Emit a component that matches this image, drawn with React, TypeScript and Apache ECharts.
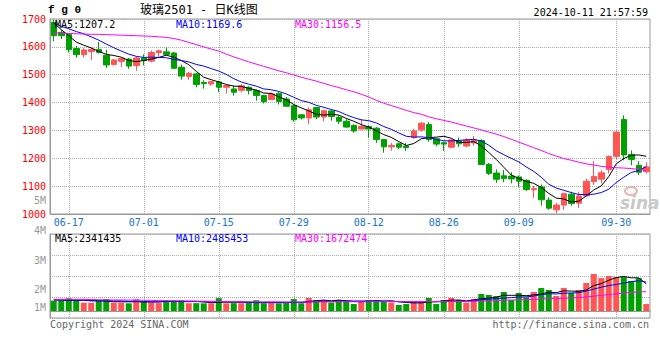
import React, { useEffect, useRef } from 'react';
import * as echarts from 'echarts';

// ---------- data ----------
const dates = [
  '06-13','06-14','06-17','06-18','06-19','06-20','06-21','06-24','06-25','06-26','06-27','06-28',
  '07-01','07-02','07-03','07-04','07-05','07-08','07-09','07-10','07-11','07-12','07-15','07-16','07-17','07-18','07-19','07-22','07-23','07-24','07-25','07-26','07-29','07-30','07-31',
  '08-01','08-02','08-05','08-06','08-07','08-08','08-09','08-12','08-13','08-14','08-15','08-16','08-19','08-20','08-21','08-22','08-23','08-26','08-27','08-28','08-29','08-30',
  '09-02','09-03','09-04','09-05','09-06','09-09','09-10','09-11','09-12','09-13','09-18','09-19','09-20','09-23','09-24','09-25','09-26','09-27','09-30',
  '10-08','10-09','10-10','10-11'
];
const labelDates = ['06-17','07-01','07-15','07-29','08-12','08-26','09-09','09-30'];

const open = [
  1688,1652,1645,1594,1572,1583,1590,1570,1537,1548,
  1556,1533,1560,1549,1579,1582,1578,1527,1494,1503,
  1472,1467,1474,1455,1449,1444,1455,1443,1425,1411,
  1433,1413,1389,1356,1345,1382,1348,1370,1347,1333,
  1318,1305,1314,1308,1267,1241,1252,1244,1275,1302,
  1321,1270,1256,1240,1262,1244,1255,1264,1178,1147,
  1137,1136,1133,1121,1087,1097,1050,1015,1032,1071,
  1039,1065,1116,1125,1160,1207,1339,1214,1175,1152
];
const close = [
  1640,1640,1590,1572,1589,1590,1580,1535,1553,1558,
  1531,1560,1551,1580,1586,1573,1523,1495,1505,1465,
  1468,1475,1455,1461,1437,1460,1443,1425,1404,1431,
  1404,1387,1338,1345,1374,1348,1371,1350,1333,1312,
  1298,1314,1305,1267,1241,1246,1240,1238,1298,1326,
  1267,1251,1251,1266,1252,1266,1265,1178,1146,1125,
  1127,1126,1118,1088,1091,1051,1021,1032,1073,1038,
  1065,1118,1135,1148,1206,1294,1212,1196,1150,1169
];
const high = [
  1698,1660,1648,1603,1595,1598,1618,1590,1557,1562,
  1560,1565,1573,1587,1590,1598,1582,1536,1510,1506,
  1480,1478,1478,1466,1461,1466,1459,1447,1428,1436,
  1437,1420,1393,1358,1382,1385,1375,1373,1354,1340,
  1322,1340,1318,1312,1270,1255,1257,1255,1306,1330,
  1330,1273,1260,1270,1275,1272,1280,1268,1183,1160,
  1158,1150,1138,1125,1101,1106,1060,1040,1077,1080,
  1080,1127,1190,1157,1210,1297,1354,1228,1190,1185
];
const low = [
  1620,1628,1580,1561,1562,1553,1576,1524,1533,1527,
  1521,1514,1533,1544,1565,1570,1522,1482,1482,1455,
  1450,1460,1437,1433,1425,1437,1429,1407,1397,1409,
  1393,1385,1332,1339,1322,1340,1333,1335,1323,1310,
  1292,1303,1274,1255,1220,1227,1233,1226,1270,1296,
  1260,1243,1226,1236,1240,1240,1245,1176,1140,1112,
  1114,1110,1095,1082,1058,1030,1015,1003,1015,1030,
  1022,1062,1105,1110,1145,1197,1193,1175,1140,1145
];
const ma5 = [
  1686,1662,1640,1617,1606,1596,1584,1573,1569,1563,
  1551,1547,1551,1556,1562,1570,1563,1551,1536,1512,
  1491,1482,1474,1465,1459,1458,1451,1445,1434,1433,
  1421,1410,1393,1381,1370,1358,1355,1358,1355,1343,
  1333,1321,1312,1299,1285,1275,1260,1246,1253,1270,
  1274,1276,1279,1272,1257,1257,1260,1245,1221,1196,
  1168,1140,1128,1117,1110,1095,1074,1057,1054,1043,
  1046,1065,1086,1101,1134,1180,1199,1211,1212,1207
];
const ma10 = [
  1684,1674,1665,1655,1647,1636,1624,1610,1597,1585,
  1574,1566,1562,1563,1562,1561,1555,1551,1546,1537,
  1531,1522,1513,1501,1486,1474,1466,1459,1449,1446,
  1440,1431,1419,1407,1401,1390,1383,1375,1368,1356,
  1346,1338,1335,1327,1314,1304,1291,1279,1276,1277,
  1274,1268,1263,1262,1264,1266,1268,1262,1247,1227,
  1213,1200,1187,1169,1153,1132,1107,1093,1085,1077,
  1070,1070,1071,1077,1089,1113,1132,1149,1156,1170
];
const ma30 = [
  1650,1649,1648,1647,1646,1645,1645,1644,1643,1642,
  1641,1640,1639,1638,1636,1634,1630,1624,1616,1608,
  1600,1592,1585,1574,1564,1555,1546,1538,1530,1522,
  1514,1507,1499,1491,1484,1477,1469,1461,1454,1446,
  1439,1430,1420,1408,1398,1389,1381,1372,1364,1358,
  1349,1342,1336,1330,1323,1316,1309,1302,1294,1287,
  1278,1268,1258,1248,1238,1228,1217,1208,1199,1193,
  1186,1180,1176,1171,1168,1166,1165,1163,1160,1157
];
// volume in millions
const volume = [
  0.89,0.885,1.09,0.89,0.72,0.715,0.89,1.01,0.72,0.72,
  0.66,1.01,0.80,0.72,0.68,0.91,0.90,0.92,0.67,0.68,
  0.66,0.67,1.11,0.66,0.68,0.67,0.69,0.93,0.67,0.68,
  0.66,0.68,1.03,0.67,1.12,0.93,0.94,0.72,0.94,0.86,
  0.60,0.86,0.94,0.95,0.86,0.72,0.52,0.60,0.80,0.86,
  1.12,0.60,0.95,1.12,0.95,0.72,1.03,1.47,1.38,1.29,
  1.64,0.95,1.55,1.18,1.64,1.98,1.81,1.29,1.98,1.55,
  1.81,2.41,3.19,2.84,3.02,2.93,2.93,2.59,2.84,0.60
];
const volMa5 = [
  0.95,0.93,0.92,0.92,0.93,0.87,0.87,0.86,0.80,0.80,
  0.79,0.81,0.78,0.78,0.78,0.84,0.82,0.83,0.83,0.83,
  0.78,0.72,0.76,0.76,0.76,0.76,0.76,0.72,0.72,0.72,
  0.72,0.72,0.74,0.74,0.83,0.89,0.94,0.88,0.94,0.89,
  0.82,0.80,0.84,0.84,0.84,0.87,0.80,0.73,0.70,0.70,
  0.78,0.80,0.87,0.93,0.95,0.87,0.95,1.06,1.11,1.18,
  1.36,1.35,1.36,1.32,1.39,1.46,1.63,1.58,1.74,1.72,
  1.69,1.81,2.19,2.36,2.65,2.88,2.98,2.86,2.86,2.34
];
const volMa10 = [
  0.97,0.96,0.95,0.94,0.93,0.91,0.90,0.89,0.87,0.87,
  0.83,0.84,0.82,0.79,0.79,0.82,0.82,0.81,0.81,0.81,
  0.81,0.77,0.80,0.80,0.80,0.77,0.74,0.74,0.74,0.74,
  0.74,0.74,0.73,0.73,0.78,0.81,0.83,0.81,0.84,0.86,
  0.86,0.87,0.86,0.89,0.87,0.85,0.80,0.79,0.77,0.77,
  0.83,0.80,0.80,0.82,0.83,0.83,0.88,0.97,1.02,1.07,
  1.12,1.15,1.21,1.22,1.29,1.41,1.49,1.47,1.53,1.56,
  1.58,1.72,1.89,2.05,2.19,2.29,2.40,2.53,2.61,2.49
];
const volMa30 = [
  1.01,1.01,1.01,1.00,1.00,0.99,0.97,0.96,0.95,0.95,
  0.94,0.94,0.93,0.92,0.90,0.89,0.88,0.87,0.86,0.85,
  0.85,0.84,0.83,0.82,0.81,0.80,0.80,0.79,0.79,0.79,
  0.79,0.78,0.78,0.78,0.78,0.79,0.79,0.79,0.80,0.80,
  0.80,0.80,0.80,0.81,0.81,0.81,0.81,0.81,0.81,0.81,
  0.82,0.82,0.82,0.83,0.83,0.83,0.84,0.86,0.88,0.90,
  0.93,0.94,0.96,0.97,1.00,1.03,1.06,1.07,1.10,1.13,
  1.16,1.21,1.28,1.35,1.42,1.48,1.55,1.60,1.65,1.67
];
const volTickLabels = ['5M', '4M', '3M', '2M', '1M'];
const priceLegend = ['MA5:1207.2', 'MA10:1169.6', 'MA30:1156.5'];
const volLegend = ['MA5:2341435', 'MA10:2485453', 'MA30:1672474'];
const titleCode = 'f g 0';
const titleText = '玻璃2501 - 日K线图';
const timestamp = '2024-10-11 21:57:59';
const copyright = 'Copyright 2024 SINA.COM';
const siteUrl = 'http://finance.sina.com.cn';

// ---------- styles / layout ----------
const UP = '#ff5555';
const DOWN = '#00a000';
const MA_COLORS = ['#000000', '#0000ff', '#ff00ff'];
const MONO = '"DejaVu Sans Mono", monospace';
const GRID_LINE = { color: '#aaaaaa', type: 'dotted' as const, width: 1 };
const volLabelY = [200, 230.5, 260.5, 289.5, 307];
const legendX = [55, 176, 295];

function buildOption() {
  const candles = open.map((o, i) => [o, close[i], low[i], high[i]]);
  const volBars = volume.map((v, i) => ({
    value: v,
    itemStyle: { color: close[i] >= open[i] ? UP : DOWN },
  }));
  const showDate = (_i: number, v: string) => labelDates.includes(v);

  const lineSeries = (name: string, data: number[], color: string, xi: number, yi: number) => ({
    name, type: 'line', data, xAxisIndex: xi, yAxisIndex: yi,
    symbol: 'none', showSymbol: false, smooth: false,
    lineStyle: { color, width: 1 }, itemStyle: { color }, z: 4,
  });

  const text = (t: string, x: number, y: number, fill: string, font: string, align = 'left') => ({
    type: 'text', x, y, z: 100,
    style: { text: t, fill, font, align, verticalAlign: 'middle' },
  });

  const graphics: any[] = [
    text(titleCode, 48, 10, '#000', `bold 11px "Liberation Mono", monospace`),
    text(titleText, 140, 10, '#000', `12px "DejaVu Sans Mono", "Noto Sans CJK SC"`),
    text(timestamp, 648, 12, '#000', `10px ${MONO}`, 'right'),
    ...priceLegend.map((t, i) => text(t, legendX[i], 24, MA_COLORS[i], `10px ${MONO}`)),
    ...volLegend.map((t, i) => text(t, legendX[i], 238, MA_COLORS[i], `10px ${MONO}`)),
    ...volTickLabels.map((t, i) => text(t, 46, volLabelY[i], '#999999', `10px ${MONO}`, 'right')),
    text(copyright, 50, 324, '#666666', `10px ${MONO}`),
    text(siteUrl, 649, 324, '#666666', `10px ${MONO}`, 'right'),
    {
      type: 'ellipse', z: 1, silent: true,
      shape: { cx: 631, cy: 191, rx: 6, ry: 4 },
      style: { fill: 'none', stroke: '#e8b4b4', lineWidth: 2 },
    },
    {
      type: 'text', x: 620, y: 203, z: 1, silent: true,
      style: { text: 'sina', fill: '#c8c8c8', font: 'italic bold 17px "DejaVu Sans"', align: 'left', verticalAlign: 'middle' },
    },
  ];

  return {
    animation: false,
    backgroundColor: '#ffffff',
    grid: [
      { left: 50, right: 10, top: 19, height: 195, show: true, borderColor: '#999999', borderWidth: 1, backgroundColor: 'transparent' },
      { left: 50, right: 10, top: 234, height: 84, show: true, borderColor: '#999999', borderWidth: 1, backgroundColor: 'transparent' },
    ],
    xAxis: [
      {
        type: 'category', gridIndex: 0, data: dates, boundaryGap: true,
        axisLine: { show: true, lineStyle: { color: '#999999' } },
        axisTick: { show: false },
        axisLabel: { interval: showDate, color: '#1874cd', fontFamily: MONO, fontSize: 10, margin: 3 },
        splitLine: { show: true, interval: showDate, alignWithLabel: true, lineStyle: GRID_LINE },
      },
      {
        type: 'category', gridIndex: 1, data: dates, boundaryGap: true,
        axisLine: { show: true, lineStyle: { color: '#999999' } },
        axisTick: { show: false },
        axisLabel: { show: false },
        splitLine: { show: true, interval: showDate, alignWithLabel: true, lineStyle: GRID_LINE },
      },
    ],
    yAxis: [
      {
        type: 'value', gridIndex: 0, min: 1000, max: 1700, interval: 100, position: 'left',
        axisLine: { show: true, lineStyle: { color: '#999999' } },
        axisTick: { show: false },
        axisLabel: { color: '#ff0000', fontFamily: MONO, fontSize: 10, margin: 4, formatter: (v: number) => String(v) },
        splitLine: { show: true, lineStyle: GRID_LINE },
      },
      {
        type: 'value', gridIndex: 1, min: -0.603, max: 6.638, position: 'left',
        axisLine: { show: true, lineStyle: { color: '#999999' } },
        axisTick: { show: false }, axisLabel: { show: false }, splitLine: { show: false },
      },
      {
        type: 'value', gridIndex: 1, min: 0, max: 4, interval: 1, position: 'right',
        axisLine: { show: false }, axisTick: { show: false }, axisLabel: { show: false },
        splitLine: { show: true, lineStyle: GRID_LINE },
      },
    ],
    series: [
      {
        name: 'K', type: 'candlestick', data: candles, xAxisIndex: 0, yAxisIndex: 0,
        barWidth: 6, z: 3,
        itemStyle: { color: UP, color0: DOWN, borderColor: UP, borderColor0: DOWN, borderWidth: 1 },
      },
      lineSeries('MA5', ma5, MA_COLORS[0], 0, 0),
      lineSeries('MA10', ma10, MA_COLORS[1], 0, 0),
      lineSeries('MA30', ma30, MA_COLORS[2], 0, 0),
      { name: 'VOL', type: 'bar', data: volBars, xAxisIndex: 1, yAxisIndex: 1, barWidth: 6, z: 3 },
      lineSeries('VMA5', volMa5, MA_COLORS[0], 1, 1),
      lineSeries('VMA10', volMa10, MA_COLORS[1], 1, 1),
      lineSeries('VMA30', volMa30, MA_COLORS[2], 1, 1),
    ],
    graphic: graphics,
  };
}

export default function App() {
  const ref = useRef<HTMLDivElement>(null);
  useEffect(() => {
    if (!ref.current) return;
    const chart = echarts.init(ref.current, null, { renderer: 'svg' });
    chart.setOption(buildOption() as any);
    return () => chart.dispose();
  }, []);
  return (
    <div
      ref={ref}
      style={{ position: 'fixed', left: 0, top: 0, width: 660, height: 360, background: '#ffffff' }}
    />
  );
}
